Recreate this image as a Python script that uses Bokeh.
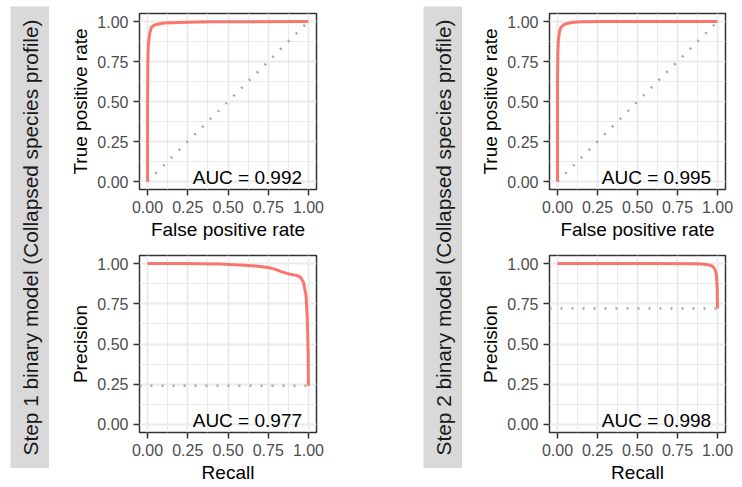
from bokeh.plotting import figure
from bokeh.layouts import row, column
from bokeh.models import Range1d, FixedTicker, Span, Label, Spacer
from bokeh.embed import file_html
from bokeh.resources import INLINE

FONT = "Liberation Sans"
RED = "#F8766D"

# ---- data ----
tick_values = [0.0, 0.25, 0.5, 0.75, 1.0]
tick_labels = ["0.00", "0.25", "0.50", "0.75", "1.00"]
minor_values = [0.125, 0.375, 0.625, 0.875]

strip_titles = ["Step 1 binary model (Collapsed species profile)",
                "Step 2 binary model (Collapsed species profile)"]

chance_x = [0.0, 1.0]
chance_y = [0.0, 1.0]

roc1_fpr = [0.0, 0.0, 0.002, 0.005, 0.01, 0.015, 0.02, 0.025, 0.035, 0.05, 0.07, 0.1, 0.15, 0.25, 0.4, 0.6, 1.0]
roc1_tpr = [0.0, 0.5, 0.75, 0.85, 0.9, 0.93, 0.95, 0.965, 0.973, 0.98, 0.985, 0.99, 0.992, 0.995, 0.998, 0.999, 1.0]
roc1_auc = 0.992

roc2_fpr = [0.0, 0.0, 0.002, 0.005, 0.01, 0.015, 0.02, 0.03, 0.04, 0.06, 0.1, 0.15, 0.3, 1.0]
roc2_tpr = [0.0, 0.6, 0.8, 0.88, 0.92, 0.945, 0.96, 0.972, 0.98, 0.988, 0.995, 0.998, 1.0, 1.0]
roc2_auc = 0.995

pr1_recall = [0.0, 0.2, 0.45, 0.6, 0.67, 0.75, 0.8, 0.83, 0.88, 0.93, 0.95, 0.97, 0.985, 0.993, 0.998, 1.0]
pr1_precision = [1.0, 1.0, 0.997, 0.99, 0.985, 0.975, 0.962, 0.95, 0.935, 0.925, 0.915, 0.88, 0.80, 0.65, 0.45, 0.24]
pr1_baseline = 0.24
pr1_auc = 0.977

pr2_recall = [0.0, 0.5, 0.87, 0.92, 0.952, 0.97, 0.983, 0.99, 0.994, 0.998, 1.0]
pr2_precision = [1.0, 1.0, 0.999, 0.996, 0.99, 0.982, 0.967, 0.945, 0.92, 0.85, 0.72]
pr2_baseline = 0.72
pr2_auc = 0.998


def panel(x, y, xlabel, ylabel, auc, width, height, borders, chance=None, baseline=None):
    bl, br, bt, bb = borders
    p = figure(width=width, height=height, x_range=Range1d(-0.05, 1.05), y_range=Range1d(-0.05, 1.05),
               toolbar_location=None, output_backend="svg",
               min_border=0, min_border_left=bl, min_border_right=br,
               min_border_top=bt, min_border_bottom=bb,
               background_fill_color="white", border_fill_color="white",
               outline_line_color="#333333", outline_line_width=1.5)
    ticker = FixedTicker(ticks=tick_values, minor_ticks=minor_values)
    for ax in (p.xaxis[0], p.yaxis[0]):
        ax.ticker = ticker
        ax.major_label_overrides = {v: s for v, s in zip(tick_values, tick_labels)}
        ax.axis_line_color = None
        ax.major_tick_line_color = "#333333"
        ax.major_tick_line_width = 1.5
        ax.major_tick_out = 6
        ax.major_tick_in = 0
        ax.minor_tick_out = 0
        ax.minor_tick_in = 0
        ax.minor_tick_line_color = None
        ax.major_label_text_font = FONT
        ax.major_label_text_font_size = "16px"
        ax.major_label_text_color = "#4D4D4D"
        ax.major_label_standoff = 5
        ax.axis_label_text_font = FONT
        ax.axis_label_text_font_size = "19px"
        ax.axis_label_text_font_style = "normal"
        ax.axis_label_text_color = "#000000"
        ax.axis_label_standoff = 3
    p.xaxis[0].axis_label = xlabel
    p.yaxis[0].axis_label = ylabel
    for g in p.grid:
        g.ticker = ticker
        g.grid_line_color = "#EBEBEB"
        g.grid_line_width = 2
        g.minor_grid_line_color = "#EBEBEB"
        g.minor_grid_line_width = 1
    if chance is not None:
        p.line(chance[0], chance[1], line_color="#A6A6A6", line_width=2.5, line_dash="2 9")
    if baseline is not None:
        p.add_layout(Span(location=baseline, dimension="width", line_color="#A6A6A6",
                          line_width=2.5, line_dash="2 9"))
    p.line(x, y, line_color=RED, line_width=3, line_join="round")
    p.add_layout(Label(x=0.96, y=0.025, text="AUC = %.3f" % auc, text_align="right",
                       text_baseline="alphabetic", text_font=FONT, text_font_size="19px",
                       text_color="#000000"))
    return p


def strip(text, width, height):
    s = figure(width=width, height=height, x_range=Range1d(0, 1), y_range=Range1d(0, 1),
               x_axis_type=None, y_axis_type=None, toolbar_location=None, output_backend="svg",
               min_border=0, background_fill_color="#D9D9D9", border_fill_color="#D9D9D9",
               outline_line_color=None)
    s.add_layout(Label(x=0.5, y=0.5, text=text, angle=90, angle_units="deg", text_align="center",
                       text_baseline="middle", text_font=FONT, text_font_size="20.8px",
                       text_color="#1A1A1A"))
    return s


roc1 = panel(roc1_fpr, roc1_tpr, "False positive rate", "True positive rate", roc1_auc,
             286, 245, (90, 19, 13, 56), chance=(chance_x, chance_y))
pr1 = panel(pr1_recall, pr1_precision, "Recall", "Precision", pr1_auc,
            286, 242, (90, 19, 10, 55), baseline=pr1_baseline)
roc2 = panel(roc2_fpr, roc2_tpr, "False positive rate", "True positive rate", roc2_auc,
             280, 245, (87, 17, 13, 56), chance=(chance_x, chance_y))
pr2 = panel(pr2_recall, pr2_precision, "Recall", "Precision", pr2_auc,
            280, 242, (87, 17, 10, 55), baseline=pr2_baseline)

s1 = strip(strip_titles[0], 39, 462)
s2 = strip(strip_titles[1], 39, 462)

layout = row(Spacer(width=10, height=10), column(Spacer(width=39, height=6), s1, spacing=0),
             column(roc1, pr1, spacing=0),
             Spacer(width=88, height=10), column(Spacer(width=39, height=6), s2, spacing=0),
             column(roc2, pr2, spacing=0), spacing=0)

open("out.html", "w").write(file_html(layout, INLINE))
